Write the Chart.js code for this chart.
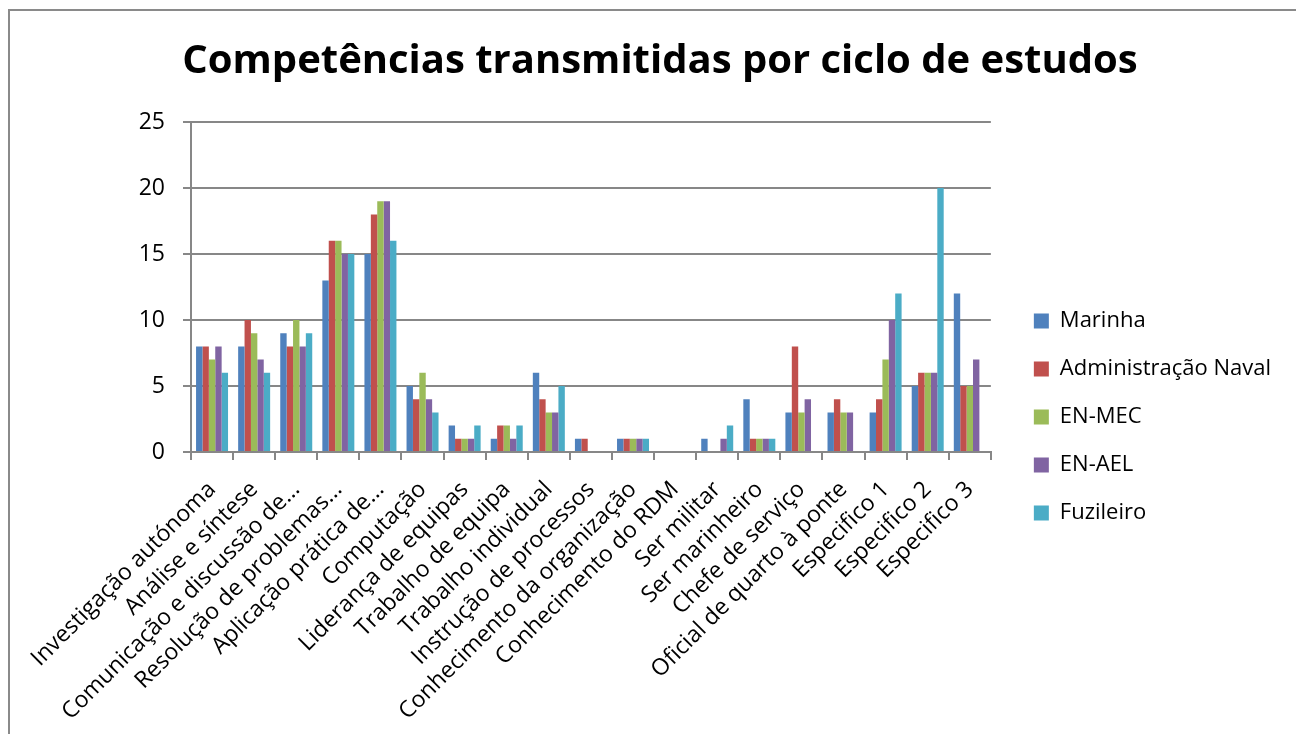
<!DOCTYPE html>
<html>
<head>
<meta charset="utf-8">
<script src="https://cdn.jsdelivr.net/npm/chart.js@4.4.0/dist/chart.umd.min.js"></script>
<style>
  html, body { margin: 0; padding: 0; background: #fff; overflow: hidden; }
  #frame { position: absolute; left: 8px; top: 9px; width: 1400px; height: 800px;
           border-left: 2px solid #8a8a8a; border-top: 2px solid #8a8a8a; }
  #wrap { position: absolute; left: 0; top: 0; width: 1296px; height: 734px; }
</style>
</head>
<body>
<div id="frame"></div>
<div id="wrap"><canvas id="chart" width="1296" height="734"></canvas></div>
<script>
/* ================= DATA ================= */
const categories = [
  'Investigação autónoma',
  'Análise e síntese',
  'Comunicação e discussão de...',
  'Resolução de problemas...',
  'Aplicação prática de...',
  'Computação',
  'Liderança de equipas',
  'Trabalho de equipa',
  'Trabalho individual',
  'Instrução de processos',
  'Conhecimento da organização',
  'Conhecimento do RDM',
  'Ser militar',
  'Ser marinheiro',
  'Chefe de serviço',
  'Oficial de quarto à ponte',
  'Especifico 1',
  'Especifico 2',
  'Especifico 3'
];

const marinha     = [8, 8, 9, 13, 15, 5, 2, 1, 6, 1, 1, 0, 1, 4, 3, 3, 3, 5, 12];
const adminNaval  = [8, 10, 8, 16, 18, 4, 1, 2, 4, 1, 1, 0, 0, 1, 8, 4, 4, 6, 5];
const enMec       = [7, 9, 10, 16, 19, 6, 1, 2, 3, 0, 1, 0, 0, 1, 3, 3, 7, 6, 5];
const enAel       = [8, 7, 8, 15, 19, 4, 1, 1, 3, 0, 1, 0, 1, 1, 4, 3, 10, 6, 7];
const fuzileiro   = [6, 6, 9, 15, 16, 3, 2, 2, 5, 0, 1, 0, 2, 1, 0, 0, 12, 20, 0];

const yTicks = [0, 5, 10, 15, 20, 25];

/* ================= STYLE ================= */
const FONT = "'Open Sans', 'Liberation Sans', sans-serif";
const GRID = '#878787';

const series = [
  { label: 'Marinha', data: marinha, color: '#4F81BD' },
  { label: 'Administração Naval', data: adminNaval, color: '#C0504D' },
  { label: 'EN-MEC', data: enMec, color: '#9BBB59' },
  { label: 'EN-AEL', data: enAel, color: '#8064A2' },
  { label: 'Fuzileiro', data: fuzileiro, color: '#4BACC6' }
];

/* ================= CHART ================= */
const ctx = document.getElementById('chart').getContext('2d');
new Chart(ctx, {
  type: 'bar',
  data: {
    labels: categories,
    datasets: series.map(s => ({
      label: s.label,
      data: s.data,
      backgroundColor: s.color,
      borderWidth: 0,
      categoryPercentage: 0.76,
      barPercentage: 1
    }))
  },
  options: {
    responsive: false,
    animation: false,
    layout: { padding: { left: 39, right: 15, top: 0, bottom: 0 } },
    plugins: {
      tooltip: { enabled: false },
      title: {
        display: true,
        text: 'Competências transmitidas por ciclo de estudos',
        color: '#000',
        font: { family: FONT, size: 40, weight: 'bold', lineHeight: 1.2 },
        padding: { top: 38, bottom: 36 }
      },
      legend: {
        position: 'right',
        align: 'start',
        maxWidth: 330,
        // empty title only pushes the entries down to the middle of the plot
        title: { display: true, text: '', font: { size: 10, lineHeight: 1 }, padding: { top: 274, bottom: 0 } },
        labels: {
          color: '#000',
          boxWidth: 15,
          boxHeight: 15,
          padding: 26,
          font: { family: FONT, size: 22 }
        }
      }
    },
    scales: {
      x: {
        grid: { display: true, drawOnChartArea: false, offset: true, color: GRID, lineWidth: 2, tickLength: 8 },
        border: { display: true, color: GRID, width: 2 },
        ticks: {
          autoSkip: false,
          minRotation: 45,
          maxRotation: 45,
          color: '#000',
          padding: 16,
          font: { family: FONT, size: 23 }
        },
        afterFit: s => { s.height = 282; }
      },
      y: {
        min: 0,
        max: 25,
        afterBuildTicks: s => { s.ticks = yTicks.map(v => ({ value: v })); },
        grid: { color: GRID, lineWidth: 2, tickLength: 8 },
        border: { display: true, color: GRID, width: 2 },
        ticks: {
          color: '#000',
          padding: 18,
          font: { family: FONT, size: 23 }
        },
        afterFit: s => { s.width = 152; }
      },
      // spacer between plot and legend
      yRight: {
        position: 'right',
        display: true,
        grid: { display: false },
        border: { display: false },
        ticks: { display: false },
        afterFit: s => { s.width = 17; }
      }
    }
  }
});
</script>
</body>
</html>
